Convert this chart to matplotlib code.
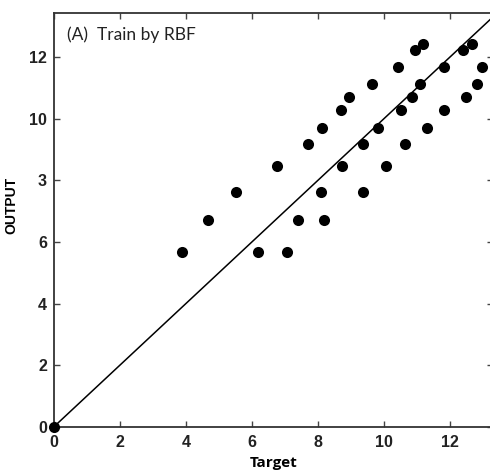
import matplotlib
matplotlib.use("Agg")
import matplotlib.pyplot as plt

target = [0.0, 3.88, 4.68, 5.52, 6.18, 6.77, 7.06, 7.40, 7.70, 8.09, 8.18, 8.14, 8.69, 8.72,
          8.95, 9.37, 9.37, 9.63, 9.84, 10.07, 10.42, 10.52, 10.65, 10.87, 10.96, 11.09,
          11.20, 11.31, 11.83, 11.83, 12.39, 12.49, 12.69, 12.82, 12.97]
output = [0.0, 5.66, 6.71, 7.61, 5.66, 8.47, 5.66, 6.71, 9.20, 7.61, 6.71, 9.69, 10.30, 8.47,
          10.71, 7.61, 9.20, 11.13, 9.69, 8.47, 11.69, 10.30, 9.20, 10.71, 12.23, 11.13,
          12.43, 9.69, 10.30, 11.69, 12.23, 10.71, 12.43, 11.13, 11.69]
x_ticks = [0, 2, 4, 6, 8, 10, 12]
x_tick_labels = ["0", "2", "4", "6", "8", "10", "12"]
y_ticks = [0, 2, 4, 6, 8, 10, 12]
y_tick_labels = ["0", "2", "4", "6", "3", "10", "12"]
ideal = [0, 14]

fig = plt.figure(figsize=(4.9, 4.75), dpi=100)
ax = fig.add_axes([0.1102, 0.1017, 0.895, 0.8716])

ax.plot(ideal, ideal, color="black", lw=1.1, zorder=2)
ax.scatter(target, output, s=64, color="black", zorder=3, clip_on=False, linewidths=0)

ax.set_xlim(0, 13.3)
ax.set_ylim(0, 13.45)
ax.set_xticks(x_ticks)
ax.set_xticklabels(x_tick_labels, fontfamily="Liberation Sans", fontweight="bold", fontsize=11.5)
ax.set_yticks(y_ticks)
ax.set_yticklabels(y_tick_labels, fontfamily="Liberation Sans", fontweight="bold", fontsize=11.5)
ax.tick_params(direction="in", length=4, width=1, top=True, right=True, colors="#444444",
               labelcolor="#222222")
ax.tick_params(axis="y", pad=5)
ax.tick_params(axis="x", pad=6)
for s in ax.spines.values():
    s.set_linewidth(1.3)
    s.set_color("#333333")

ax.set_xlabel("Target", fontfamily="Open Sans", fontweight="bold", fontsize=11, labelpad=4)
ax.set_ylabel("OUTPUT", fontfamily="Liberation Sans", fontweight="bold", fontsize=10)
ax.yaxis.set_label_coords(-0.082, 0.535)
ax.text(0.03, 0.967, "(A)  Train by RBF", transform=ax.transAxes, ha="left", va="top",
        fontfamily="Lato", fontsize=12.5, color="#222222")

fig.savefig("out.png", dpi=100)
